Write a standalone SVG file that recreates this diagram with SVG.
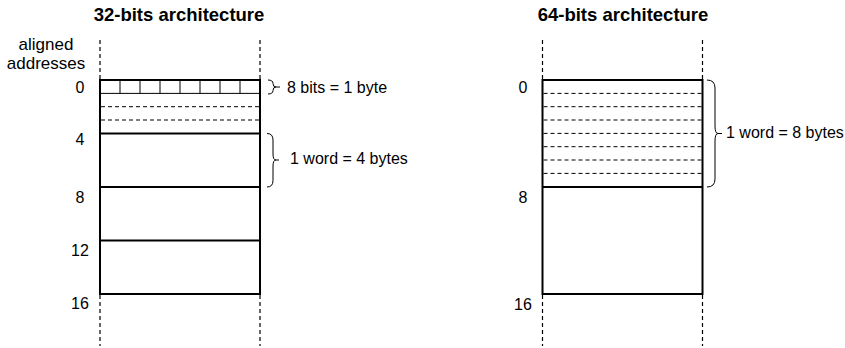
<svg xmlns="http://www.w3.org/2000/svg" width="845" height="348" viewBox="0 0 845 348">
<style>
text{font-family:"Liberation Sans",Arial,sans-serif;fill:#000}
.t{font-size:18.5px;font-weight:bold;text-anchor:middle}
.l{font-size:16px}
.n{font-size:16px;text-anchor:middle}
.box{fill:none;stroke:#000;stroke-width:2}
.row{stroke:#000;stroke-width:2}
.thin{stroke:#000;stroke-width:1;fill:none}
.dash{stroke:#000;stroke-width:1;stroke-dasharray:4,3}
.vdash{stroke:#000;stroke-width:1.2;stroke-dasharray:4,3}
.brace{fill:none;stroke:#000;stroke-width:1}
</style>
<rect width="845" height="348" fill="#fff"/>

<g id="arch32">
  <text class="t" x="179" y="21">32-bits architecture</text>
  <text class="l" x="46" y="50" text-anchor="middle" style="font-size:17px">aligned</text>
  <text class="l" x="46" y="69" text-anchor="middle" style="font-size:17px">addresses</text>
  <line class="vdash" x1="100" y1="40" x2="100" y2="80"/>
  <line class="vdash" x1="260" y1="40" x2="260" y2="80"/>
  <line class="vdash" x1="100" y1="295" x2="100" y2="346"/>
  <line class="vdash" x1="260" y1="295" x2="260" y2="346"/>
  <line class="thin" x1="100" y1="93.4" x2="260" y2="93.4"/>
  <path class="thin" d="M120,80V93.4M140,80V93.4M160,80V93.4M180,80V93.4M200,80V93.4M220,80V93.4M240,80V93.4"/>
  <line class="dash" x1="101" y1="106.7" x2="259" y2="106.7"/>
  <line class="dash" x1="101" y1="120" x2="259" y2="120"/>
  <line class="row" x1="100" y1="133.5" x2="260" y2="133.5"/>
  <line class="row" x1="100" y1="187" x2="260" y2="187"/>
  <line class="row" x1="100" y1="240.5" x2="260" y2="240.5"/>
  <rect class="box" x="100" y="80" width="160" height="214"/>
  <text class="n" x="80" y="93">0</text>
  <text class="n" x="80" y="145">4</text>
  <text class="n" x="80" y="203">8</text>
  <text class="n" x="80" y="256">12</text>
  <text class="n" x="80" y="309">16</text>
</g>

<g id="arch64">
  <text class="t" x="623" y="21">64-bits architecture</text>
  <line class="vdash" x1="542.5" y1="40" x2="542.5" y2="80"/>
  <line class="vdash" x1="702.5" y1="40" x2="702.5" y2="80"/>
  <line class="vdash" x1="542.5" y1="295" x2="542.5" y2="346"/>
  <line class="vdash" x1="702.5" y1="295" x2="702.5" y2="346"/>
  <line class="dash" x1="543.5" y1="93.4" x2="701.5" y2="93.4"/>
  <line class="dash" x1="543.5" y1="106.7" x2="701.5" y2="106.7"/>
  <line class="dash" x1="543.5" y1="120" x2="701.5" y2="120"/>
  <line class="dash" x1="543.5" y1="133.4" x2="701.5" y2="133.4"/>
  <line class="dash" x1="543.5" y1="146.7" x2="701.5" y2="146.7"/>
  <line class="dash" x1="543.5" y1="160" x2="701.5" y2="160"/>
  <line class="dash" x1="543.5" y1="173.4" x2="701.5" y2="173.4"/>
  <line class="row" x1="542.5" y1="187" x2="702.5" y2="187"/>
  <rect class="box" x="542.5" y="80" width="160" height="214"/>
  <text class="n" x="523" y="93">0</text>
  <text class="n" x="523" y="203">8</text>
  <text class="n" x="523" y="310">16</text>
</g>

<g id="byte-brace">
  <path class="brace" d="M268,80 Q273,80 273,83.5 L273,83.5 Q273,87 276,87 L280,87 M276,87 Q273,87 273,90.5 Q273,94 268,94"/>
  <text class="l" x="287" y="93">8 bits = 1 byte</text>
</g>

<g id="word4-brace">
  <path class="brace" d="M267,133.5 Q273,133.5 273,140 L273,154 Q273,160 276,160 L279,160 M276,160 Q273,160 273,166 L273,180.5 Q273,187 267,187"/>
  <text class="l" x="290" y="164">1 word = 4 bytes</text>
</g>

<g id="word8-brace">
  <path class="brace" d="M707,80 Q715,80 715,88 L715,126 Q715,133.5 718,133.5 L722,133.5 M718,133.5 Q715,133.5 715,141 L715,179 Q715,187 707,187"/>
  <text class="l" x="726" y="138">1 word = 8 bytes</text>
</g>
</svg>
